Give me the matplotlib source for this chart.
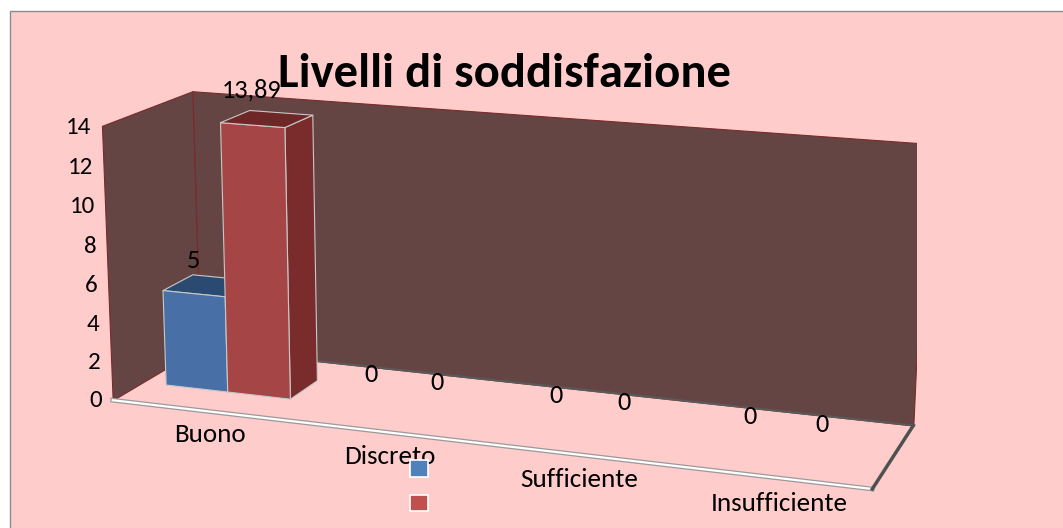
import numpy as np
import matplotlib
matplotlib.use('Agg')
import matplotlib.pyplot as plt
from matplotlib.patches import Rectangle
from mpl_toolkits.mplot3d import proj3d
from mpl_toolkits.mplot3d.art3d import Poly3DCollection

categories = ['Buono', 'Discreto', 'Sufficiente', 'Insufficiente']
serie1 = [5, 0, 0, 0]
serie2 = [13.89, 0, 0, 0]
labels1 = ['5', '0', '0', '0']
labels2 = ['13,89', '0', '0', '0']
zticks = [0, 2, 4, 6, 8, 10, 12, 14]
title = 'Livelli di soddisfazione'

plt.rcParams['font.family'] = ['Carlito', 'DejaVu Sans']

W, H = 1063, 528
fig = plt.figure(figsize=(W / 100, H / 100), dpi=100)
# pink chart area with its grey frame (open at right and bottom)
fig.add_artist(Rectangle((10 / W, -0.01), 1.0, (H - 11) / H + 0.01, transform=fig.transFigure,
                         facecolor='#FFCCCC', edgecolor='#8C8C8C', lw=1, zorder=-1))

# camera set to match the Excel 3D view
ax = fig.add_axes([0.0719, -0.3387, 0.7899, 1.5903], projection='3d', computed_zorder=False)
ax.set_xlim(0, 4)
ax.set_ylim(0, 1)
ax.set_zlim(0, 14)
ax.view_init(14.76, -70.39, -0.157)
ax.set_proj_type('persp', focal_length=0.555)
ax.set_box_aspect((1, 0.254, 0.3636))
ax.set_axis_off()
ax.patch.set_alpha(0)
M = ax.get_proj()


def text3(x, y, z, s, **kw):
    # place a flat label at the projected 3D point
    px, py, _ = proj3d.proj_transform(x, y, z, M)
    ax.text2D(px, py, s, transform=ax.transData, zorder=6, **kw)


# walls
wall = dict(facecolor='#654444', edgecolor='#7a2a2a', linewidths=0.8)
ax.add_collection3d(Poly3DCollection([[(0, 1, 0), (4, 1, 0), (4, 1, 14), (0, 1, 14)]], zorder=1, **wall))
ax.add_collection3d(Poly3DCollection([[(0, 0, 0), (0, 1, 0), (0, 1, 14), (0, 0, 14)]], zorder=1, **wall))
# floor edges
ax.plot([0, 4], [1, 1], [0, 0], color='#5a5a5a', lw=1.5, zorder=2)
ax.plot([0, 4], [0, 0], [0, 0], color='#9a9a9a', lw=3.4, zorder=2)
ax.plot([0, 4], [0, 0], [0, 0], color='white', lw=1.6, zorder=2)
ax.plot([4, 4], [0, 1], [0, 0], color='#505050', lw=2.5, zorder=2)

xb, bw, y0, dy = 0.139, 0.361, 0.329, 0.342


def box(x0, h):
    x1, y1 = x0 + bw, y0 + dy
    front = [(x0, y0, 0), (x1, y0, 0), (x1, y0, h), (x0, y0, h)]
    right = [(x1, y0, 0), (x1, y1, 0), (x1, y1, h), (x1, y0, h)]
    top = [(x0, y0, h), (x1, y0, h), (x1, y1, h), (x0, y1, h)]
    return [front, right, top]


styles = [('#4870A6', '#345780', '#2B4A72'), ('#A64545', '#7A2C2C', '#6E2727')]
for s, vals in enumerate([serie1, serie2]):
    for i, v in enumerate(vals):
        if v <= 0:
            continue
        ax.add_collection3d(Poly3DCollection(box(i + xb + s * bw, v), facecolors=list(styles[s]),
                                             edgecolors='#C8C8C8', linewidths=0.8, zorder=3 + s))

for s, (vals, labs) in enumerate([(serie1, labels1), (serie2, labels2)]):
    for i, (v, lab) in enumerate(zip(vals, labs)):
        text3(i + xb + (s + 0.5) * bw, y0, v + 1.15, lab, ha='center', va='bottom', fontsize=19)

for i, cat in enumerate(categories):
    text3(i + 0.555, 0, -1.22, cat, ha='center', va='center', fontsize=19.5)
for v in zticks:
    text3(-0.06, 0, v - 0.1, str(v), ha='right', va='center', fontsize=18)

fig.text(505 / W, 1 - 74 / H, title, ha='center', va='center', fontsize=35, weight='bold')

handles = [Rectangle((0, 0), 1, 1, facecolor='#4F81BD', edgecolor='white', lw=1.2),
           Rectangle((0, 0), 1, 1, facecolor='#C0504D', edgecolor='white', lw=1.2)]
fig.legend(handles, ['', ''], loc='center', bbox_to_anchor=(419 / W, 1 - 486 / H), frameon=False,
           handlelength=1.0, handleheight=1.05, labelspacing=0.95, handletextpad=0, fontsize=13)

fig.savefig('out.png', dpi=100)
